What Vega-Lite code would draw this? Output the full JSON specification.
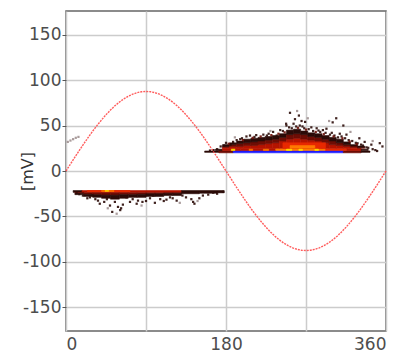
{
  "$schema": "https://vega.github.io/schema/vega-lite/v6.json",
  "width": 320,
  "height": 320,
  "autosize": {"type": "none"},
  "padding": {"left": 66, "top": 11, "right": 20, "bottom": 30},
  "background": "#ffffff",
  "config": {
    "font": "DejaVu Sans",
    "view": {"stroke": "#666666", "strokeWidth": 1.5}
  },
  "datasets": {
    "cells": [
      {"p0": 156, "p1": 172, "v0": 20.5, "v1": 22, "n": 1},
      {"p0": 172, "p1": 188, "v0": 20, "v1": 22.5, "n": 2},
      {"p0": 188, "p1": 312, "v0": 20, "v1": 22.5, "n": 7},
      {"p0": 312, "p1": 332, "v0": 20, "v1": 22.5, "n": 2},
      {"p0": 332, "p1": 342, "v0": 20.5, "v1": 22, "n": 1},
      {"p0": 168, "p1": 176, "v0": 22.5, "v1": 24, "n": 1},
      {"p0": 176, "p1": 196, "v0": 22.5, "v1": 25, "n": 3},
      {"p0": 196, "p1": 236, "v0": 22.5, "v1": 25, "n": 3},
      {"p0": 236, "p1": 292, "v0": 22.5, "v1": 25, "n": 5},
      {"p0": 292, "p1": 316, "v0": 22.5, "v1": 25, "n": 4},
      {"p0": 316, "p1": 332, "v0": 22.5, "v1": 25, "n": 3},
      {"p0": 332, "p1": 340, "v0": 22.5, "v1": 24, "n": 1},
      {"p0": 176, "p1": 184, "v0": 25, "v1": 26, "n": 3},
      {"p0": 176, "p1": 184, "v0": 26, "v1": 27, "n": 2},
      {"p0": 176, "p1": 184, "v0": 27, "v1": 29, "n": 1},
      {"p0": 184, "p1": 192, "v0": 25, "v1": 27, "n": 3},
      {"p0": 184, "p1": 192, "v0": 27, "v1": 29, "n": 2},
      {"p0": 184, "p1": 192, "v0": 29, "v1": 31, "n": 1},
      {"p0": 192, "p1": 200, "v0": 25, "v1": 27, "n": 3},
      {"p0": 192, "p1": 200, "v0": 27, "v1": 30, "n": 2},
      {"p0": 192, "p1": 200, "v0": 30, "v1": 33, "n": 1},
      {"p0": 200, "p1": 208, "v0": 25, "v1": 28, "n": 3},
      {"p0": 200, "p1": 208, "v0": 28, "v1": 31, "n": 2},
      {"p0": 200, "p1": 208, "v0": 31, "v1": 35, "n": 1},
      {"p0": 208, "p1": 216, "v0": 25, "v1": 28, "n": 3},
      {"p0": 208, "p1": 216, "v0": 28, "v1": 32, "n": 2},
      {"p0": 208, "p1": 216, "v0": 32, "v1": 36, "n": 1},
      {"p0": 216, "p1": 224, "v0": 25, "v1": 29, "n": 3},
      {"p0": 216, "p1": 224, "v0": 29, "v1": 33, "n": 2},
      {"p0": 216, "p1": 224, "v0": 33, "v1": 37, "n": 1},
      {"p0": 224, "p1": 232, "v0": 25, "v1": 30, "n": 3},
      {"p0": 224, "p1": 232, "v0": 30, "v1": 34, "n": 2},
      {"p0": 224, "p1": 232, "v0": 34, "v1": 38, "n": 1},
      {"p0": 232, "p1": 240, "v0": 25, "v1": 31, "n": 3},
      {"p0": 232, "p1": 240, "v0": 31, "v1": 35, "n": 2},
      {"p0": 232, "p1": 240, "v0": 35, "v1": 39, "n": 1},
      {"p0": 240, "p1": 248, "v0": 25, "v1": 33, "n": 3},
      {"p0": 240, "p1": 248, "v0": 33, "v1": 37, "n": 2},
      {"p0": 240, "p1": 248, "v0": 37, "v1": 41, "n": 1},
      {"p0": 248, "p1": 256, "v0": 25, "v1": 35, "n": 3},
      {"p0": 248, "p1": 256, "v0": 35, "v1": 40, "n": 2},
      {"p0": 248, "p1": 256, "v0": 40, "v1": 45, "n": 1},
      {"p0": 256, "p1": 264, "v0": 25, "v1": 36, "n": 3},
      {"p0": 256, "p1": 264, "v0": 36, "v1": 41, "n": 2},
      {"p0": 256, "p1": 264, "v0": 41, "v1": 46, "n": 1},
      {"p0": 264, "p1": 272, "v0": 25, "v1": 35, "n": 3},
      {"p0": 264, "p1": 272, "v0": 35, "v1": 40, "n": 2},
      {"p0": 264, "p1": 272, "v0": 40, "v1": 44, "n": 1},
      {"p0": 272, "p1": 280, "v0": 25, "v1": 34, "n": 3},
      {"p0": 272, "p1": 280, "v0": 34, "v1": 38, "n": 2},
      {"p0": 272, "p1": 280, "v0": 38, "v1": 42, "n": 1},
      {"p0": 280, "p1": 288, "v0": 25, "v1": 33, "n": 3},
      {"p0": 280, "p1": 288, "v0": 33, "v1": 37, "n": 2},
      {"p0": 280, "p1": 288, "v0": 37, "v1": 41, "n": 1},
      {"p0": 288, "p1": 296, "v0": 25, "v1": 31, "n": 3},
      {"p0": 288, "p1": 296, "v0": 31, "v1": 35, "n": 2},
      {"p0": 288, "p1": 296, "v0": 35, "v1": 39, "n": 1},
      {"p0": 296, "p1": 304, "v0": 25, "v1": 29, "n": 3},
      {"p0": 296, "p1": 304, "v0": 29, "v1": 33, "n": 2},
      {"p0": 296, "p1": 304, "v0": 33, "v1": 37, "n": 1},
      {"p0": 304, "p1": 312, "v0": 25, "v1": 28, "n": 3},
      {"p0": 304, "p1": 312, "v0": 28, "v1": 31, "n": 2},
      {"p0": 304, "p1": 312, "v0": 31, "v1": 35, "n": 1},
      {"p0": 312, "p1": 320, "v0": 25, "v1": 27, "n": 3},
      {"p0": 312, "p1": 320, "v0": 27, "v1": 29, "n": 2},
      {"p0": 312, "p1": 320, "v0": 29, "v1": 32, "n": 1},
      {"p0": 320, "p1": 328, "v0": 25, "v1": 26, "n": 3},
      {"p0": 320, "p1": 328, "v0": 26, "v1": 27.5, "n": 2},
      {"p0": 320, "p1": 328, "v0": 27.5, "v1": 29, "n": 1},
      {"p0": 328, "p1": 336, "v0": 25, "v1": 26, "n": 2},
      {"p0": 328, "p1": 336, "v0": 26, "v1": 27.5, "n": 1},
      {"p0": 244, "p1": 292, "v0": 25, "v1": 31, "n": 4},
      {"p0": 252, "p1": 280, "v0": 25, "v1": 28, "n": 5},
      {"p0": 186, "p1": 190, "v0": 22.5, "v1": 24, "n": 6},
      {"p0": 206, "p1": 210, "v0": 22.5, "v1": 24, "n": 5},
      {"p0": 222, "p1": 228, "v0": 22.5, "v1": 24, "n": 5},
      {"p0": 248, "p1": 254, "v0": 22.5, "v1": 24, "n": 6},
      {"p0": 262, "p1": 266, "v0": 22.5, "v1": 24, "n": 6},
      {"p0": 280, "p1": 284, "v0": 22.5, "v1": 24, "n": 6},
      {"p0": 8, "p1": 18, "v0": -21.5, "v1": -23.5, "n": 1},
      {"p0": 18, "p1": 130, "v0": -21.5, "v1": -24, "n": 3},
      {"p0": 130, "p1": 178, "v0": -21.5, "v1": -23, "n": 1},
      {"p0": 24, "p1": 72, "v0": -21.5, "v1": -23, "n": 4},
      {"p0": 40, "p1": 54, "v0": -21.5, "v1": -22.5, "n": 5},
      {"p0": 44, "p1": 48, "v0": -21.5, "v1": -22.3, "n": 6},
      {"p0": 10, "p1": 20, "v0": -23.5, "v1": -24.5, "n": 2},
      {"p0": 10, "p1": 20, "v0": -24.5, "v1": -26, "n": 1},
      {"p0": 20, "p1": 30, "v0": -24, "v1": -25.5, "n": 2},
      {"p0": 20, "p1": 30, "v0": -25.5, "v1": -28, "n": 1},
      {"p0": 30, "p1": 40, "v0": -24, "v1": -26, "n": 2},
      {"p0": 30, "p1": 40, "v0": -26, "v1": -29, "n": 1},
      {"p0": 40, "p1": 50, "v0": -24, "v1": -26.5, "n": 2},
      {"p0": 40, "p1": 50, "v0": -26.5, "v1": -30, "n": 1},
      {"p0": 50, "p1": 60, "v0": -24, "v1": -26.5, "n": 2},
      {"p0": 50, "p1": 60, "v0": -26.5, "v1": -31, "n": 1},
      {"p0": 60, "p1": 70, "v0": -24, "v1": -26, "n": 2},
      {"p0": 60, "p1": 70, "v0": -26, "v1": -30, "n": 1},
      {"p0": 70, "p1": 80, "v0": -24, "v1": -26, "n": 2},
      {"p0": 70, "p1": 80, "v0": -26, "v1": -29, "n": 1},
      {"p0": 80, "p1": 90, "v0": -24, "v1": -25.5, "n": 2},
      {"p0": 80, "p1": 90, "v0": -25.5, "v1": -29, "n": 1},
      {"p0": 90, "p1": 100, "v0": -24, "v1": -25, "n": 2},
      {"p0": 90, "p1": 100, "v0": -25, "v1": -28, "n": 1},
      {"p0": 100, "p1": 110, "v0": -24, "v1": -25, "n": 2},
      {"p0": 100, "p1": 110, "v0": -25, "v1": -28, "n": 1},
      {"p0": 110, "p1": 120, "v0": -24, "v1": -24.5, "n": 2},
      {"p0": 110, "p1": 120, "v0": -24.5, "v1": -27, "n": 1},
      {"p0": 120, "p1": 130, "v0": -24, "v1": -24.5, "n": 2},
      {"p0": 120, "p1": 130, "v0": -24.5, "v1": -27, "n": 1},
      {"p0": 130, "p1": 150, "v0": -23, "v1": -25, "n": 1},
      {"p0": 150, "p1": 170, "v0": -23, "v1": -24.5, "n": 1},
      {"p0": 170, "p1": 178, "v0": -23, "v1": -24, "n": 1}
    ],
    "dots": [
      {"p": 252, "v": 64, "n": 1}, {"p": 262, "v": 61, "n": 1}, {"p": 257.6, "v": 57, "n": 1},
      {"p": 247.6, "v": 52, "n": 1}, {"p": 256, "v": 52, "n": 1}, {"p": 265, "v": 55, "n": 1},
      {"p": 269, "v": 54, "n": 1}, {"p": 304, "v": 58, "n": 1}, {"p": 300, "v": 53.5, "n": 1},
      {"p": 312, "v": 50, "n": 1}, {"p": 308, "v": 41, "n": 1}, {"p": 315.5, "v": 40, "n": 1},
      {"p": 330, "v": 36, "n": 1}, {"p": 336, "v": 32, "n": 1}, {"p": 343.5, "v": 29, "n": 1},
      {"p": 353, "v": 30.6, "n": 1}, {"p": 356, "v": 27, "n": 1}, {"p": 332, "v": 29, "n": 1},
      {"p": 207, "v": 39, "n": 1}, {"p": 198, "v": 36, "n": 1}, {"p": 185, "v": 29, "n": 1},
      {"p": 174, "v": 27, "n": 1}, {"p": 237, "v": 39, "n": 1}, {"p": 241, "v": 45, "n": 1},
      {"p": 248, "v": 50, "n": 1}, {"p": 276, "v": 48, "n": 1}, {"p": 282, "v": 47, "n": 1},
      {"p": 289, "v": 45, "n": 1}, {"p": 293, "v": 46.5, "n": 1}, {"p": 180, "v": 31, "n": 1},
      {"p": 192, "v": 34, "n": 1}, {"p": 203, "v": 38, "n": 1}, {"p": 214, "v": 39.5, "n": 1},
      {"p": 222, "v": 40, "n": 1}, {"p": 228, "v": 41, "n": 1}, {"p": 233, "v": 43, "n": 1},
      {"p": 244, "v": 44, "n": 1}, {"p": 251, "v": 48, "n": 1}, {"p": 259, "v": 49, "n": 1},
      {"p": 263, "v": 50, "n": 1}, {"p": 268, "v": 47, "n": 1}, {"p": 273, "v": 46, "n": 1},
      {"p": 278, "v": 44, "n": 1}, {"p": 286, "v": 43, "n": 1}, {"p": 292, "v": 42, "n": 1},
      {"p": 297, "v": 40, "n": 1}, {"p": 302, "v": 39, "n": 1}, {"p": 306, "v": 37, "n": 1},
      {"p": 310, "v": 38, "n": 1}, {"p": 318, "v": 34, "n": 1}, {"p": 322, "v": 33, "n": 1},
      {"p": 326, "v": 31, "n": 1}, {"p": 334, "v": 28, "n": 1}, {"p": 338, "v": 26, "n": 1},
      {"p": 340, "v": 25.5, "n": 1}, {"p": 345, "v": 24, "n": 1}, {"p": 348, "v": 23, "n": 1},
      {"p": 350, "v": 22, "n": 1}, {"p": 162, "v": 22.5, "n": 1}, {"p": 166, "v": 23, "n": 1},
      {"p": 170, "v": 24, "n": 1}, {"p": 178, "v": 28, "n": 1}, {"p": 188, "v": 32, "n": 1},
      {"p": 196, "v": 35, "n": 1}, {"p": 212, "v": 37.5, "n": 1}, {"p": 226, "v": 39, "n": 1},
      {"p": 254, "v": 47, "n": 1}, {"p": 266, "v": 49, "n": 1}, {"p": 284, "v": 44.5, "n": 1},
      {"p": 299, "v": 42, "n": 1}, {"p": 314, "v": 36, "n": 1}, {"p": 328, "v": 30.5, "n": 1},
      {"p": 183, "v": 30, "n": 2}, {"p": 199, "v": 34, "n": 2}, {"p": 210, "v": 36.5, "n": 2},
      {"p": 219, "v": 38, "n": 2}, {"p": 231, "v": 39.5, "n": 2}, {"p": 239, "v": 41, "n": 2},
      {"p": 246, "v": 42.5, "n": 2}, {"p": 261, "v": 47.5, "n": 2}, {"p": 270, "v": 45.5, "n": 2},
      {"p": 281, "v": 43, "n": 2}, {"p": 290, "v": 40.5, "n": 2}, {"p": 301, "v": 38, "n": 2},
      {"p": 311, "v": 36, "n": 2}, {"p": 319, "v": 32.5, "n": 2}, {"p": 327, "v": 29.5, "n": 2},
      {"p": 260, "v": 66, "n": 0}, {"p": 272, "v": 58, "n": 0}, {"p": 296, "v": 55, "n": 0},
      {"p": 320, "v": 43, "n": 0}, {"p": 345, "v": 33, "n": 0}, {"p": 190, "v": 37, "n": 0},
      {"p": 230, "v": 44, "n": 0},
      {"p": 2, "v": 32, "n": 0}, {"p": 5, "v": 33.5, "n": 0}, {"p": 8, "v": 35, "n": 0},
      {"p": 11, "v": 36.5, "n": 0}, {"p": 14, "v": 37.5, "n": 0},
      {"p": 55, "v": -34, "n": 1}, {"p": 61, "v": -43, "n": 1}, {"p": 62, "v": -41, "n": 1},
      {"p": 43, "v": -34, "n": 1}, {"p": 36, "v": -32.6, "n": 1}, {"p": 72, "v": -34, "n": 1},
      {"p": 81, "v": -32.6, "n": 1}, {"p": 86, "v": -34, "n": 1}, {"p": 106, "v": -31, "n": 1},
      {"p": 113, "v": -31.5, "n": 1}, {"p": 124.5, "v": -32.6, "n": 1}, {"p": 143, "v": -34, "n": 1},
      {"p": 144.5, "v": -36, "n": 1}, {"p": 141, "v": -31, "n": 1}, {"p": 154, "v": -27, "n": 1},
      {"p": 165.6, "v": -23.8, "n": 1}, {"p": 176.6, "v": -23, "n": 1}, {"p": 27, "v": -29, "n": 1},
      {"p": 19, "v": -27, "n": 1}, {"p": 15, "v": -25.5, "n": 1}, {"p": 46, "v": -31, "n": 1},
      {"p": 68, "v": -29, "n": 1}, {"p": 94.5, "v": -30, "n": 1}, {"p": 117, "v": -29, "n": 1},
      {"p": 131, "v": -27, "n": 1}, {"p": 49.5, "v": -38, "n": 1}, {"p": 58.5, "v": -39.5, "n": 1},
      {"p": 38, "v": -36, "n": 1}, {"p": 79.5, "v": -36, "n": 1}, {"p": 30, "v": -27, "n": 1},
      {"p": 98, "v": -27, "n": 1}, {"p": 52, "v": -45, "n": 1}, {"p": 64, "v": -37, "n": 1},
      {"p": 90, "v": -33, "n": 1}, {"p": 100, "v": -35, "n": 1}, {"p": 110, "v": -33, "n": 1},
      {"p": 135, "v": -29, "n": 1}, {"p": 150, "v": -30, "n": 1}, {"p": 160, "v": -26, "n": 1},
      {"p": 170, "v": -25, "n": 1}, {"p": 12, "v": -24.5, "n": 1}, {"p": 24, "v": -30, "n": 1},
      {"p": 33, "v": -31, "n": 1}, {"p": 75, "v": -31, "n": 1}, {"p": 120, "v": -30, "n": 1},
      {"p": 57, "v": -47, "n": 0}, {"p": 47, "v": -41, "n": 0}, {"p": 85, "v": -38, "n": 0},
      {"p": 128, "v": -35, "n": 0}, {"p": 148, "v": -33, "n": 0}
    ],
    "wave": [
      {"p": 0, "v": 0}, {"p": 5, "v": 7.6}, {"p": 10, "v": 15.2}, {"p": 15, "v": 22.6},
      {"p": 20, "v": 29.9}, {"p": 25, "v": 37}, {"p": 30, "v": 43.8}, {"p": 35, "v": 50.2},
      {"p": 40, "v": 56.2}, {"p": 45, "v": 61.9}, {"p": 50, "v": 67}, {"p": 55, "v": 71.7},
      {"p": 60, "v": 75.8}, {"p": 65, "v": 79.3}, {"p": 70, "v": 82.2}, {"p": 75, "v": 84.5},
      {"p": 80, "v": 86.2}, {"p": 85, "v": 87.2}, {"p": 90, "v": 87.5}, {"p": 95, "v": 87.2},
      {"p": 100, "v": 86.2}, {"p": 105, "v": 84.5}, {"p": 110, "v": 82.2}, {"p": 115, "v": 79.3},
      {"p": 120, "v": 75.8}, {"p": 125, "v": 71.7}, {"p": 130, "v": 67}, {"p": 135, "v": 61.9},
      {"p": 140, "v": 56.2}, {"p": 145, "v": 50.2}, {"p": 150, "v": 43.8}, {"p": 155, "v": 37},
      {"p": 160, "v": 29.9}, {"p": 165, "v": 22.6}, {"p": 170, "v": 15.2}, {"p": 175, "v": 7.6},
      {"p": 180, "v": 0}, {"p": 185, "v": -7.6}, {"p": 190, "v": -15.2}, {"p": 195, "v": -22.6},
      {"p": 200, "v": -29.9}, {"p": 205, "v": -37}, {"p": 210, "v": -43.8}, {"p": 215, "v": -50.2},
      {"p": 220, "v": -56.2}, {"p": 225, "v": -61.9}, {"p": 230, "v": -67}, {"p": 235, "v": -71.7},
      {"p": 240, "v": -75.8}, {"p": 245, "v": -79.3}, {"p": 250, "v": -82.2}, {"p": 255, "v": -84.5},
      {"p": 260, "v": -86.2}, {"p": 265, "v": -87.2}, {"p": 270, "v": -87.5}, {"p": 275, "v": -87.2},
      {"p": 280, "v": -86.2}, {"p": 285, "v": -84.5}, {"p": 290, "v": -82.2}, {"p": 295, "v": -79.3},
      {"p": 300, "v": -75.8}, {"p": 305, "v": -71.7}, {"p": 310, "v": -67}, {"p": 315, "v": -61.9},
      {"p": 320, "v": -56.2}, {"p": 325, "v": -50.2}, {"p": 330, "v": -43.8}, {"p": 335, "v": -37},
      {"p": 340, "v": -29.9}, {"p": 345, "v": -22.6}, {"p": 350, "v": -15.2}, {"p": 355, "v": -7.6},
      {"p": 360, "v": 0}
    ]
  },
  "layer": [
    {
      "data": {"name": "cells"},
      "mark": {"type": "rect", "strokeWidth": 0.6},
      "encoding": {
        "x": {
          "field": "p0", "type": "quantitative",
          "scale": {"domain": [0, 360], "nice": false, "zero": false},
          "axis": {
            "title": null,
            "values": [0, 90, 180, 270, 360],
            "labelExpr": "datum.value % 180 === 0 ? datum.label : ''",
            "grid": true, "gridColor": "#cccccc", "gridWidth": 1.5,
            "ticks": false, "domain": false,
            "labelFlush": true,
            "labelFontSize": 17, "labelColor": "#4d4d4d", "labelPadding": 5
          }
        },
        "x2": {"field": "p1"},
        "y": {
          "field": "v0", "type": "quantitative",
          "scale": {"domain": [-176, 176], "nice": false, "zero": false},
          "axis": {
            "title": "[mV]",
            "values": [-150, -100, -50, 0, 50, 100, 150],
            "labelExpr": "datum.value < 0 ? '-' + (-datum.value) : '' + datum.value",
            "grid": true, "gridColor": "#cccccc", "gridWidth": 1.5,
            "tickSize": 4, "tickColor": "#555555", "domain": false,
            "labelFontSize": 17, "labelColor": "#4d4d4d", "labelPadding": 1,
            "titleFontSize": 16, "titleFontWeight": "normal", "titleColor": "#333333",
            "titleX": -39, "titleY": 160, "titleAlign": "center", "titleBaseline": "middle"
          }
        },
        "y2": {"field": "v1"},
        "color": {
          "field": "n", "type": "ordinal",
          "scale": {
            "domain": [0, 1, 2, 3, 4, 5, 6, 7],
            "range": ["#a09090", "#2b0b08", "#6e0d05", "#b51400", "#e82800", "#ff7a00", "#ffe000", "#1a1aff"]
          },
          "legend": null
        },
        "stroke": {
          "field": "n", "type": "ordinal",
          "scale": {
            "domain": [0, 1, 2, 3, 4, 5, 6, 7],
            "range": ["#a09090", "#2b0b08", "#6e0d05", "#b51400", "#e82800", "#ff7a00", "#ffe000", "#1a1aff"]
          },
          "legend": null
        }
      }
    },
    {
      "data": {"name": "dots"},
      "mark": {"type": "square", "size": 5, "opacity": 0.9},
      "encoding": {
        "x": {"field": "p", "type": "quantitative"},
        "y": {"field": "v", "type": "quantitative"},
        "color": {"field": "n", "type": "ordinal"}
      }
    },
    {
      "data": {"name": "wave"},
      "mark": {"type": "line", "color": "#ff4a4a", "strokeWidth": 1.4, "strokeDash": [2, 1], "opacity": 0.9},
      "encoding": {
        "x": {"field": "p", "type": "quantitative"},
        "y": {"field": "v", "type": "quantitative"}
      }
    }
  ]
}
